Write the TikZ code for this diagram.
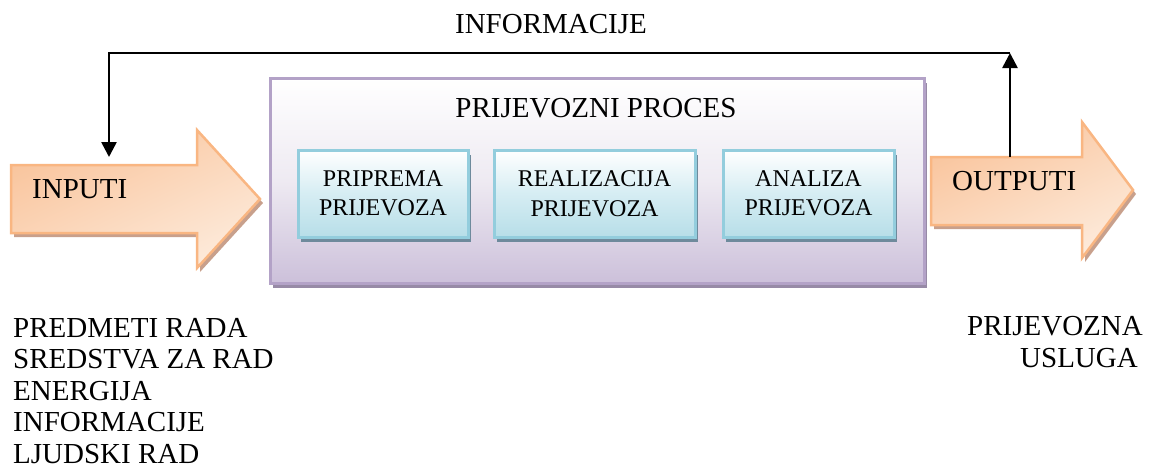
\documentclass[tikz,border=0pt]{standalone}
\usepackage{fontspec}
\setmainfont{Liberation Serif}
\usetikzlibrary{arrows.meta,shadows}
\definecolor{orbord}{RGB}{249,182,130}
\definecolor{ordark}{RGB}{249,196,156}
\definecolor{orlight}{RGB}{253,234,218}
\definecolor{orshadow}{RGB}{200,160,140}
\definecolor{purbord}{RGB}{179,162,199}
\definecolor{purfill}{RGB}{204,192,218}
\definecolor{purmid}{RGB}{238,234,242}
\definecolor{purshadow}{RGB}{151,138,166}
\definecolor{bluebord}{RGB}{147,205,221}
\definecolor{bluefill}{RGB}{183,222,232}
\definecolor{bluemid}{RGB}{214,237,243}
\definecolor{blueshadow}{RGB}{110,138,156}
\tikzset{
  bigtext/.style={font=\fontsize{29}{34}\selectfont, inner sep=0pt},
  smalltext/.style={font=\fontsize{24}{29.5}\selectfont, align=center},
  procbox/.style={draw=purbord, line width=3pt, top color=white, bottom color=purfill, middle color=purmid,
    minimum width=654pt, minimum height=205pt, inner sep=0pt,
    general shadow={fill=purshadow, shadow xshift=3pt, shadow yshift=-5pt}},
  stepbox/.style={draw=bluebord, line width=3pt, top color=white, bottom color=bluefill, middle color=bluemid,
    minimum height=87pt, inner sep=0pt, smalltext,
    general shadow={fill=blueshadow, shadow xshift=3pt, shadow yshift=-5pt}},
  bigarrow/.style={draw=orbord, line width=2.5pt, top color=ordark, bottom color=orlight, shading angle=25},
  arrowshadow/.style={fill=orshadow},
  feedback/.style={line width=2.6pt, line join=miter},
  tip/.style={-{Triangle[width=15pt,length=15pt]}}
}
\begin{document}
\begin{tikzpicture}[x=1pt,y=-1pt]
\useasboundingbox (0,0) rectangle (1151,472);
% input arrow
\fill[arrowshadow, xshift=3pt, yshift=-4pt] (11,165) -- (197,165) -- (197,130) -- (260,199) -- (197,268) -- (197,233) -- (11,233) -- cycle;
\path[bigarrow] (11,165) -- (197,165) -- (197,130) -- (260,199) -- (197,268) -- (197,233) -- (11,233) -- cycle;
% output arrow
\fill[arrowshadow, xshift=3pt, yshift=-4pt] (931,157) -- (1082,157) -- (1082,122) -- (1133,190) -- (1082,258) -- (1082,225) -- (931,225) -- cycle;
\path[bigarrow] (931,157) -- (1082,157) -- (1082,122) -- (1133,190) -- (1082,258) -- (1082,225) -- (931,225) -- cycle;
% process box
\node[procbox] (proc) at (597,180.5) {};
\node[bigtext, anchor=base] (proctitle) at (596,117) {PRIJEVOZNI PROCES};
\node[stepbox, minimum width=170pt] (b1) at (383,193.5) {PRIPREMA\\PRIJEVOZA};
\node[stepbox, minimum width=201pt] (b2) at (594.5,193.5) {REALIZACIJA\\PRIJEVOZA};
\node[stepbox, minimum width=171pt] (b3) at (808.5,193.5) {ANALIZA\\PRIJEVOZA};
% labels
\node[bigtext, anchor=base west] (inputi) at (32,198) {INPUTI};
\node[bigtext, anchor=base west] (outputi) at (952,190) {OUTPUTI};
\node[bigtext, anchor=base] (info) at (551,33) {INFORMACIJE};
\node[bigtext, anchor=base west] (l1) at (13,337) {PREDMETI RADA};
\node[bigtext, anchor=base west] (l2) at (13,368.5) {SREDSTVA ZA RAD};
\node[bigtext, anchor=base west] (l3) at (13,400) {ENERGIJA};
\node[bigtext, anchor=base west] (l4) at (13,431.5) {INFORMACIJE};
\node[bigtext, anchor=base west] (l5) at (13,463) {LJUDSKI RAD};
\node[bigtext, anchor=base west] (r1) at (967,335) {PRIJEVOZNA};
\node[bigtext, anchor=base west] (r2) at (1020,367) {USLUGA};
% feedback connector
\coordinate (fbR) at (1010,157);
\coordinate (fbTopR) at (1010,53);
\coordinate (fbTopL) at (109,53);
\coordinate (fbL) at (109,157);
\draw[feedback, tip] (fbR) -- (fbTopR);
\draw[feedback, tip] (fbTopR) -- (fbTopL) -- (fbL);
\end{tikzpicture}
\end{document}
